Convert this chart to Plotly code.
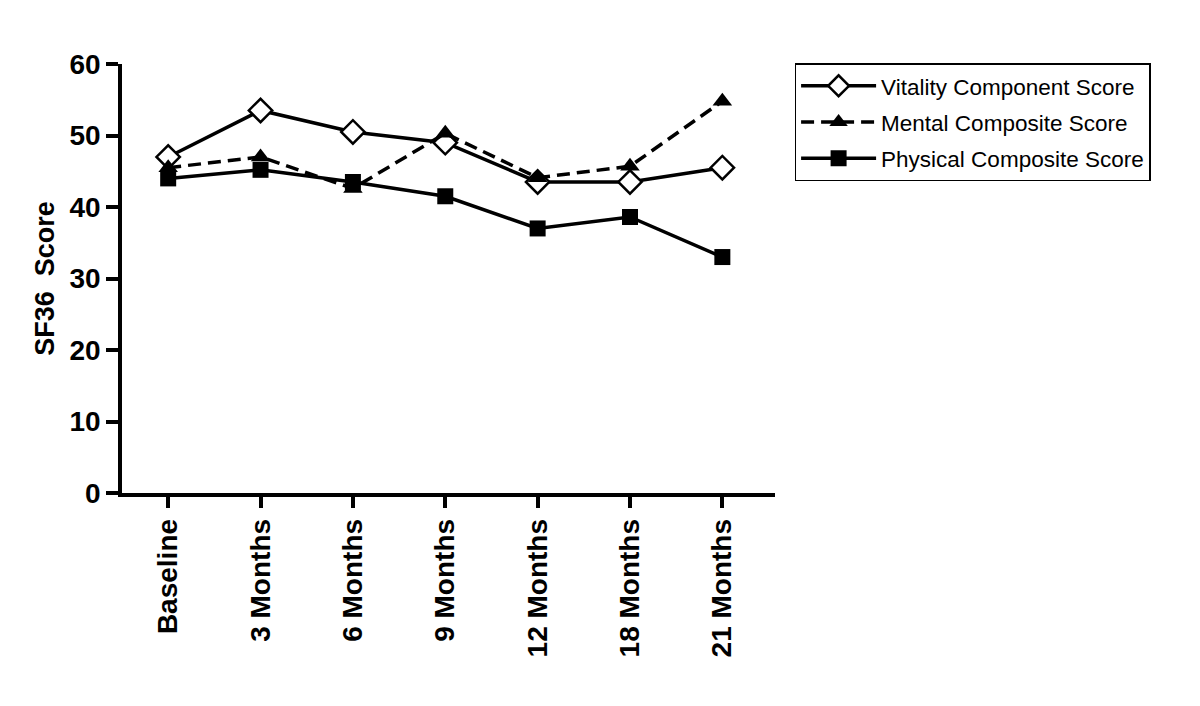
import plotly.graph_objects as go

categories = ["Baseline", "3 Months", "6 Months", "9 Months", "12 Months", "18 Months", "21 Months"]
vitality = [47.0, 53.5, 50.5, 49.0, 43.5, 43.5, 45.5]
mental = [45.5, 47.0, 42.6, 50.3, 44.1, 45.7, 54.8]
physical = [44.0, 45.2, 43.5, 41.5, 37.0, 38.6, 33.0]
yticks = [0, 10, 20, 30, 40, 50, 60]

fig = go.Figure()
fig.add_trace(go.Scatter(
    x=categories, y=vitality, name="Vitality Component Score", mode="lines+markers",
    legendgroup="v",
    line=dict(color="black", width=3.5),
    marker=dict(symbol="diamond", size=18, color="white", line=dict(color="black", width=2.5)),
))
fig.add_trace(go.Scatter(
    x=categories, y=mental, name="Mental Composite Score", mode="lines+markers",
    legendgroup="m",
    line=dict(color="black", width=3.5, dash="13px,7px"),
    marker=dict(symbol="triangle-up", size=17, color="black"),
))
fig.add_trace(go.Scatter(
    x=categories, y=physical, name="Physical Composite Score", mode="lines+markers",
    legendgroup="p",
    line=dict(color="black", width=3.5),
    marker=dict(symbol="square", size=16, color="black"),
))

fig.update_layout(
    width=1184, height=690,
    paper_bgcolor="white", plot_bgcolor="white",
    margin=dict(l=114, r=417, t=56, b=205),
    font=dict(family="Liberation Sans", color="black"),
    showlegend=True,
    legend=dict(
        x=1.03, y=1.002, xanchor="left", yanchor="top",
        bordercolor="black", borderwidth=1.5,
        font=dict(size=22.5, family="Liberation Sans", color="black"),
        itemwidth=75, tracegroupgap=4,
        entrywidth=361, entrywidthmode="pixels",
    ),
    xaxis=dict(
        type="category", range=[-0.5, 6.57],
        showline=True, linecolor="black", linewidth=3.5,
        ticks="outside", ticklen=11, tickwidth=3.5, tickcolor="black",
        tickangle=-90, showgrid=False, zeroline=False,
        tickfont=dict(size=28, family="Liberation Sans", weight="bold", color="black"),
    ),
    yaxis=dict(
        range=[0, 60], tickvals=yticks,
        showline=True, linecolor="black", linewidth=3.5,
        ticks="outside", ticklen=12, tickwidth=3.5, tickcolor="black",
        showgrid=False, zeroline=False,
        tickfont=dict(size=28, family="Liberation Sans", weight="bold", color="black"),
        title=dict(text="SF36  Score", standoff=8,
                   font=dict(size=27, family="Liberation Sans", weight="bold", color="black")),
    ),
)

fig.write_html("out.html")
